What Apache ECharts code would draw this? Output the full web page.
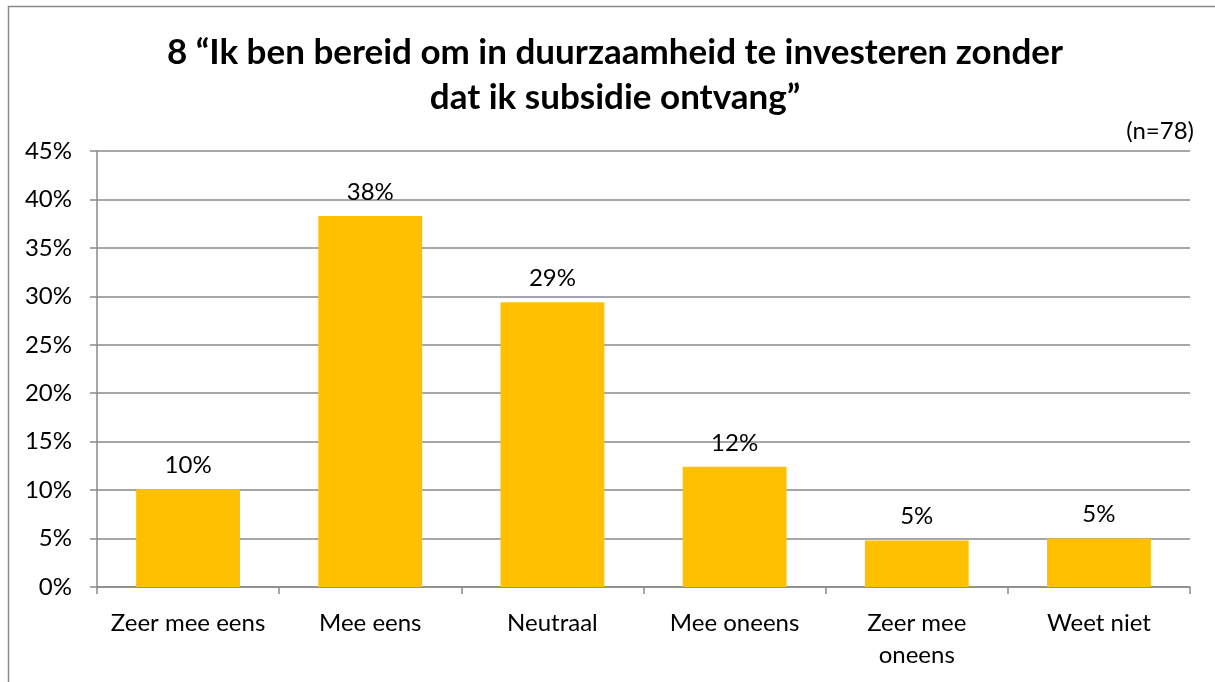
<!DOCTYPE html>
<html>
<head>
<meta charset="utf-8">
<script src="https://cdn.jsdelivr.net/npm/echarts@6/dist/echarts.min.js"></script>
<style>
html, body { margin: 0; padding: 0; background: #fff; }
#chart { width: 1215px; height: 682px; }
</style>
</head>
<body>
<div id="chart"></div>
<script>
// antwoordcategorieen en percentages (n=78)
var categories = ['Zeer mee eens', 'Mee eens', 'Neutraal', 'Mee oneens', 'Zeer mee oneens', 'Weet niet'];
var values = [10.1, 38.3, 29.4, 12.4, 4.8, 5.0];

var FONT = 'Lato';
var GREY = '#8a8a8a';

var myChart = echarts.init(document.getElementById('chart'));
var option = {
    backgroundColor: '#fff',
    textStyle: { fontFamily: FONT },
    title: [{
        text: '8 \u201cIk ben bereid om in duurzaamheid te investeren zonder\ndat ik subsidie ontvang\u201d',
        left: 610,
        top: 25,
        textAlign: 'center',
        textStyle: { fontFamily: FONT, fontSize: 35, fontWeight: 'bold', color: '#000', lineHeight: 45 }
    }, {
        text: '(n=78)',
        right: 16,
        top: 114,
        textStyle: { fontFamily: FONT, fontSize: 24, fontWeight: 'normal', color: '#000' }
    }],
    graphic: [{
        type: 'rect',
        shape: { x: 8.5, y: 6.5, width: 1260, height: 720 },
        style: { fill: 'none', stroke: GREY, lineWidth: 1.5 },
        silent: true
    }],
    grid: { left: 97, right: 25, top: 151, bottom: 95 },
    xAxis: {
        type: 'category',
        data: categories,
        axisLine: { lineStyle: { color: GREY, width: 1.5 } },
        axisTick: { show: true, length: 7, lineStyle: { color: GREY, width: 1.5 } },
        axisLabel: {
            interval: 0,
            color: '#000', fontSize: 24, fontFamily: FONT, margin: 20, lineHeight: 32,
            formatter: function (v) { return v === 'Zeer mee oneens' ? 'Zeer mee\noneens' : v; }
        }
    },
    yAxis: {
        type: 'value',
        min: 0, max: 45, interval: 5,
        axisLine: { show: true, lineStyle: { color: GREY, width: 1.5 } },
        axisTick: { show: true, length: 7, lineStyle: { color: GREY, width: 1.5 } },
        splitLine: { lineStyle: { color: GREY, width: 1.5 } },
        axisLabel: { color: '#000', fontSize: 24, fontFamily: FONT, margin: 25, formatter: '{value}%' }
    },
    series: [{
        type: 'bar',
        data: values,
        barWidth: '57%',
        itemStyle: { color: '#FFC000' },
        label: {
            show: true,
            position: 'top',
            distance: 12,
            color: '#000',
            fontSize: 24,
            fontFamily: FONT,
            formatter: function (p) { return Math.round(p.value) + '%'; }
        }
    }]
};
myChart.setOption(option);
</script>
</body>
</html>
